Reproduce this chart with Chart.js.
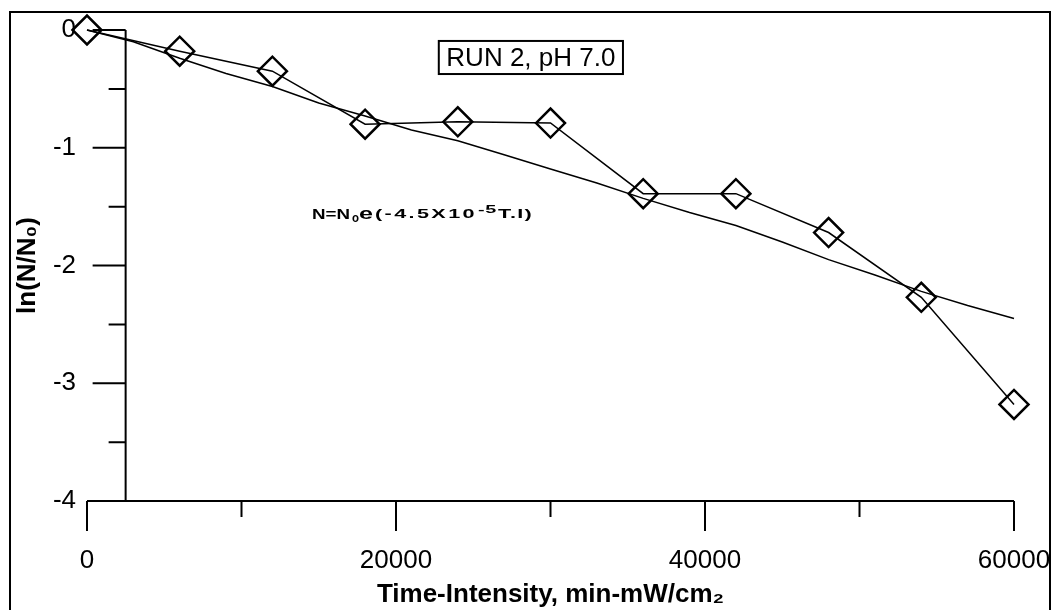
<!DOCTYPE html>
<html>
<head>
<meta charset="utf-8">
<script src="https://cdn.jsdelivr.net/npm/chart.js@4.4.1/dist/chart.umd.min.js"></script>
<style>
  html, body { margin: 0; padding: 0; background: #fff; }
</style>
</head>
<body>
<canvas id="chart" width="1054" height="610"></canvas>
<script>
// measured points (diamonds)
const runX = [0, 6000, 12000, 18000, 24000, 30000, 36000, 42000, 48000, 54000, 60000];
const runY = [0, -0.18, -0.35, -0.80, -0.78, -0.79, -1.39, -1.39, -1.72, -2.27, -3.18];

// fitted curve
const fitX = [0, 3000, 6000, 9000, 12000, 15000, 18000, 21000, 24000, 27000, 30000,
  33000, 36000, 39000, 42000, 45000, 48000, 51000, 54000, 57000, 60000];
const fitY = [0, -0.10, -0.24, -0.37, -0.48, -0.62, -0.73, -0.85, -0.94, -1.06, -1.18,
  -1.30, -1.43, -1.55, -1.66, -1.80, -1.95, -2.08, -2.22, -2.34, -2.45];

const xTicks = [0, 20000, 40000, 60000];
const xMinorTicks = [10000, 30000, 50000];
const yTicks = [0, -1, -2, -3, -4];
const yMinorTicks = [-0.5, -1.5, -2.5, -3.5];
const yAxisAtX = 2500;

const runLabel = 'RUN 2, pH 7.0';

Chart.defaults.font.family = "'Liberation Sans', Arial, sans-serif";
Chart.defaults.color = '#000';

// axis lines, ticks and outer frame
const axesPlugin = {
  id: 'axes',
  beforeDatasetsDraw(chart) {
    const { ctx, scales: { x, y } } = chart;
    const ax = x.getPixelForValue(yAxisAtX);
    const top = y.getPixelForValue(0);
    const bot = y.getPixelForValue(-4);
    const left = x.getPixelForValue(0);
    const right = x.getPixelForValue(60000);
    ctx.save();
    ctx.strokeStyle = '#000';
    ctx.lineWidth = 2;
    ctx.beginPath();
    ctx.moveTo(ax, top); ctx.lineTo(ax, bot);
    ctx.moveTo(left, bot); ctx.lineTo(right, bot);
    yTicks.forEach(v => { const p = y.getPixelForValue(v); ctx.moveTo(ax - 33, p); ctx.lineTo(ax, p); });
    yMinorTicks.forEach(v => { const p = y.getPixelForValue(v); ctx.moveTo(ax - 17, p); ctx.lineTo(ax, p); });
    xTicks.forEach(v => { const p = x.getPixelForValue(v); ctx.moveTo(p, bot); ctx.lineTo(p, bot + 30); });
    xMinorTicks.forEach(v => { const p = x.getPixelForValue(v); ctx.moveTo(p, bot); ctx.lineTo(p, bot + 16); });
    ctx.stroke();
    ctx.strokeRect(10, 12, 1040, 700);
    ctx.restore();
  }
};

function drawStretched(ctx, text, x, y, width, font) {
  ctx.font = font;
  ctx.letterSpacing = '0px';
  const w0 = ctx.measureText(text).width;
  const sx = Math.min(width / w0, 1.8);
  const ls = (width - w0 * sx) / text.length / sx;
  ctx.save();
  ctx.translate(x, y);
  ctx.scale(sx, 1);
  ctx.letterSpacing = ls + 'px';
  ctx.textBaseline = 'alphabetic';
  ctx.textAlign = 'left';
  ctx.fillText(text, 0, 0);
  ctx.restore();
}

// label box and equation
const notesPlugin = {
  id: 'notes',
  afterDatasetsDraw(chart) {
    const { ctx, scales: { x, y } } = chart;
    ctx.save();
    ctx.fillStyle = '#000';
    ctx.strokeStyle = '#000';
    ctx.lineWidth = 2;
    const bl = x.getPixelForValue(22770), br = x.getPixelForValue(34690);
    const bt = y.getPixelForValue(-0.093), bb = y.getPixelForValue(-0.374);
    ctx.strokeRect(bl, bt, br - bl, bb - bt);
    ctx.font = "26px 'Liberation Sans', Arial, sans-serif";
    ctx.textAlign = 'center';
    ctx.textBaseline = 'middle';
    ctx.fillText(runLabel, (bl + br) / 2, (bt + bb) / 2 + 1);

    const ex = x.getPixelForValue(14560), ey = y.getPixelForValue(-1.605);
    const f = s => "bold " + s + "px 'Liberation Sans', Arial, sans-serif";
    drawStretched(ctx, 'N=N', ex, ey, 38, f(15));
    drawStretched(ctx, 'o', ex + 40, ey + 3.5, 7, f(13));
    drawStretched(ctx, 'e', ex + 47, ey, 14, f(16));
    drawStretched(ctx, '(-4.5X10', ex + 63, ey - 1.3, 102, f(12));
    drawStretched(ctx, '-5', ex + 166, ey - 5.7, 19, f(11));
    drawStretched(ctx, 'T.I)', ex + 186, ey - 0.7, 35, f(12));
    ctx.restore();
  }
};

new Chart(document.getElementById('chart'), {
  type: 'scatter',
  data: {
    datasets: [
      {
        data: runX.map((v, i) => ({ x: v, y: runY[i] })),
        showLine: true,
        borderColor: '#000',
        borderWidth: 1.5,
        pointStyle: 'rectRot',
        pointRadius: 14.5,
        pointBorderWidth: 2.5,
        pointBorderColor: '#000',
        pointBackgroundColor: 'rgba(0,0,0,0)',
        clip: false
      },
      {
        data: fitX.map((v, i) => ({ x: v, y: fitY[i] })),
        showLine: true,
        borderColor: '#000',
        borderWidth: 1.5,
        pointRadius: 0,
        clip: false
      }
    ]
  },
  options: {
    responsive: false,
    animation: false,
    layout: { padding: { left: 0, right: 40, top: 30, bottom: 0 } },
    plugins: { legend: { display: false }, tooltip: { enabled: false } },
    scales: {
      x: {
        type: 'linear',
        min: 0,
        max: 60000,
        afterBuildTicks: s => { s.ticks = xTicks.map(v => ({ value: v })); },
        afterFit: s => { s.height = 109; s.paddingLeft = 0; s.paddingRight = 0; },
        grid: { display: false },
        border: { display: false },
        ticks: { font: { size: 26 }, padding: 36, maxRotation: 0, autoSkip: false, callback: v => String(v) },
        title: {
          display: true,
          text: 'Time-Intensity, min-mW/cm₂',
          font: { size: 26, weight: 'bold' },
          padding: { top: 0, bottom: 0 }
        }
      },
      y: {
        min: -4,
        max: 0,
        afterBuildTicks: s => { s.ticks = yTicks.map(v => ({ value: v })); },
        afterFit: s => { s.width = 87; s.paddingTop = 0; s.paddingBottom = 0; },
        grid: { display: false },
        border: { display: false },
        ticks: { font: { size: 26 }, padding: 3, callback: v => String(v) },
        title: {
          display: true,
          text: 'ln(N/N₀)',
          font: { size: 26, weight: 'bold' },
          padding: { top: 12, bottom: 0 }
        }
      }
    }
  },
  plugins: [axesPlugin, notesPlugin]
});
</script>
</body>
</html>
